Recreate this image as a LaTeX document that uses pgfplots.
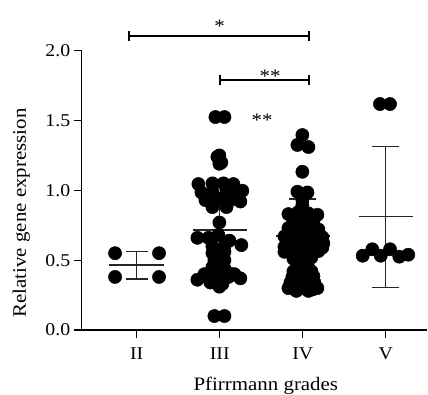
\documentclass[border=0pt]{standalone}
\usepackage{fontspec}
\setmainfont{Liberation Serif}[FakeStretch=1.1]
\usepackage{pgfplots}
\pgfplotsset{compat=1.18}
\begin{document}
\begin{tikzpicture}
\begin{axis}[
  scale only axis,
  width=345.5pt, height=279.3pt,
  xmin=0.337, xmax=4.5,
  ymin=0, ymax=2.0,
  axis lines=left,
  axis line style={-, line width=1.2pt, black},
  tick style={line width=1.2pt, black},
  tick align=outside,
  major tick length=8pt,
  xtick={1,2,3,4},
  xticklabels={II,III,IV,V},
  ytick={0,0.5,1,1.5,2},
  yticklabels={0.0,0.5,1.0,1.5,2.0},
  tick label style={font=\fontsize{18}{20}\selectfont},
  xticklabel style={yshift=-6pt},
  label style={font=\fontsize{19}{22}\selectfont},
  xlabel={Pfirrmann grades},
  ylabel={Relative gene expression},
  xlabel style={at={(axis description cs:0.533,-0.2173)}, anchor=base},
  ylabel style={at={(axis description cs:-0.1615,0.419)}, anchor=base},
  clip=false,
]
\coordinate (o) at (rel axis cs:0,0);
\pgfplotsset{dots/.style={only marks, mark=*, mark size=6.6pt, mark options={fill=black, draw=black, line width=0.5pt}}}
% dots
\addplot[dots] coordinates {
 (0.739,0.55) (1.269,0.55) (0.739,0.38) (1.269,0.38)
};
\addplot[dots] coordinates {
 (1.948,1.525) (2.057,1.525)
 (1.996,1.25) (1.996,1.19) (1.972,1.24) (2.020,1.20)
 (1.743,1.045) (1.912,1.05) (2.045,1.05) (2.165,1.045) (2.273,0.997)
 (1.780,0.985) (1.912,0.99) (2.081,1.0) (2.201,0.98)
 (1.828,0.93) (1.984,0.94) (2.129,0.93) (2.249,0.92)
 (1.912,0.88) (2.081,0.88)
 (1.996,0.77)
 (1.731,0.66) (1.864,0.66) (1.984,0.68) (2.117,0.64)
 (1.912,0.60) (2.057,0.60) (2.261,0.608)
 (1.912,0.55) (2.057,0.56)
 (1.936,0.50) (2.057,0.50)
 (1.912,0.45) (2.057,0.44)
 (1.731,0.36) (1.840,0.38) (1.972,0.40) (2.105,0.38) (2.249,0.37)
 (1.816,0.40) (2.177,0.40)
 (1.888,0.34) (2.033,0.33) (1.996,0.31)
 (1.936,0.10) (2.057,0.10)
};
\addplot[dots] coordinates {
 (2.996,1.396)
 (2.936,1.325) (3.069,1.31)
 (2.996,1.133)
 (2.936,0.99) (3.057,0.985)
 (2.996,0.93) (2.996,0.895)
 (2.828,0.83) (2.948,0.845) (3.069,0.835) (3.177,0.825)
 (2.888,0.78) (3.008,0.77) (3.129,0.78)
 (2.828,0.73) (2.948,0.735) (3.069,0.725) (3.189,0.72)
 (2.780,0.67) (2.900,0.68) (3.008,0.69) (3.129,0.675) (3.237,0.665)
 (2.828,0.635) (2.948,0.63) (3.069,0.635) (3.189,0.63) (3.249,0.62)
 (2.780,0.595) (2.900,0.60) (3.020,0.60) (3.141,0.60) (3.237,0.59)
 (2.780,0.56) (2.900,0.55) (3.008,0.56) (3.117,0.55) (3.189,0.565)
 (2.888,0.51) (2.996,0.51) (3.105,0.52)
 (2.936,0.475) (3.057,0.47)
 (2.888,0.42) (2.996,0.41) (3.105,0.42)
 (2.876,0.38) (2.972,0.375) (3.069,0.38) (3.129,0.385)
 (2.852,0.34) (2.996,0.34) (3.141,0.34)
 (2.828,0.30) (2.924,0.29) (3.020,0.30) (3.117,0.29) (3.177,0.30)
 (2.924,0.28) (3.069,0.28)
};
\addplot[dots] coordinates {
 (3.931,1.618) (4.052,1.618)
 (3.723,0.532) (3.839,0.578) (3.940,0.532) (4.052,0.578) (4.164,0.525) (4.272,0.539)
};
% mean and SD lines
\pgfplotsset{stat/.style={draw=black!85, line width=1.2pt, mark=none}}
% II
\addplot[stat] coordinates {(0.67,0.465) (1.33,0.465)};
\addplot[stat] coordinates {(1,0.365) (1,0.56)};
\addplot[stat] coordinates {(0.867,0.56) (1.133,0.56)};
\addplot[stat] coordinates {(0.867,0.365) (1.133,0.365)};
% III
\addplot[stat] coordinates {(1.675,0.716) (2.325,0.716)};
\addplot[stat] coordinates {(2,0.45) (2,0.98)};
\addplot[stat] coordinates {(1.84,0.98) (2.16,0.98)};
\addplot[stat] coordinates {(1.84,0.45) (2.16,0.45)};
% IV
\addplot[stat] coordinates {(2.675,0.673) (3.325,0.673)};
\addplot[stat] coordinates {(3,0.408) (3,0.938)};
\addplot[stat] coordinates {(2.835,0.938) (3.165,0.938)};
\addplot[stat] coordinates {(2.835,0.408) (3.165,0.408)};
% V
\addplot[stat] coordinates {(3.675,0.81) (4.325,0.81)};
\addplot[stat] coordinates {(4,0.306) (4,1.312)};
\addplot[stat] coordinates {(3.84,1.312) (4.16,1.312)};
\addplot[stat] coordinates {(3.84,0.306) (4.16,0.306)};
% significance brackets
\draw[black, line width=1.2pt] (axis cs:0.907,2.14) -- (axis cs:0.907,2.07);
\draw[black, line width=1.2pt] (axis cs:0.907,2.105) -- (axis cs:3.076,2.105);
\draw[black, line width=1.2pt] (axis cs:3.076,2.14) -- (axis cs:3.076,2.07);
\draw[black, line width=1.2pt] (axis cs:2.003,1.825) -- (axis cs:2.003,1.755);
\draw[black, line width=1.2pt] (axis cs:2.003,1.79) -- (axis cs:3.076,1.79);
\draw[black, line width=1.2pt] (axis cs:3.076,1.825) -- (axis cs:3.076,1.755);
\node[anchor=base, inner sep=0pt, font=\fontsize{19}{20}\selectfont] at (axis cs:2.0,2.13) {*};
\node[anchor=base, inner sep=0pt, font=\fontsize{19}{20}\selectfont] at (axis cs:2.606,1.775) {**};
\node[anchor=base, inner sep=0pt, font=\fontsize{19}{20}\selectfont] at (axis cs:2.51,1.46) {**};
\end{axis}
\pgfresetboundingbox
\path (o) ++(-81.7pt,-65pt) rectangle ++(428pt,395pt);
\end{tikzpicture}
\end{document}
